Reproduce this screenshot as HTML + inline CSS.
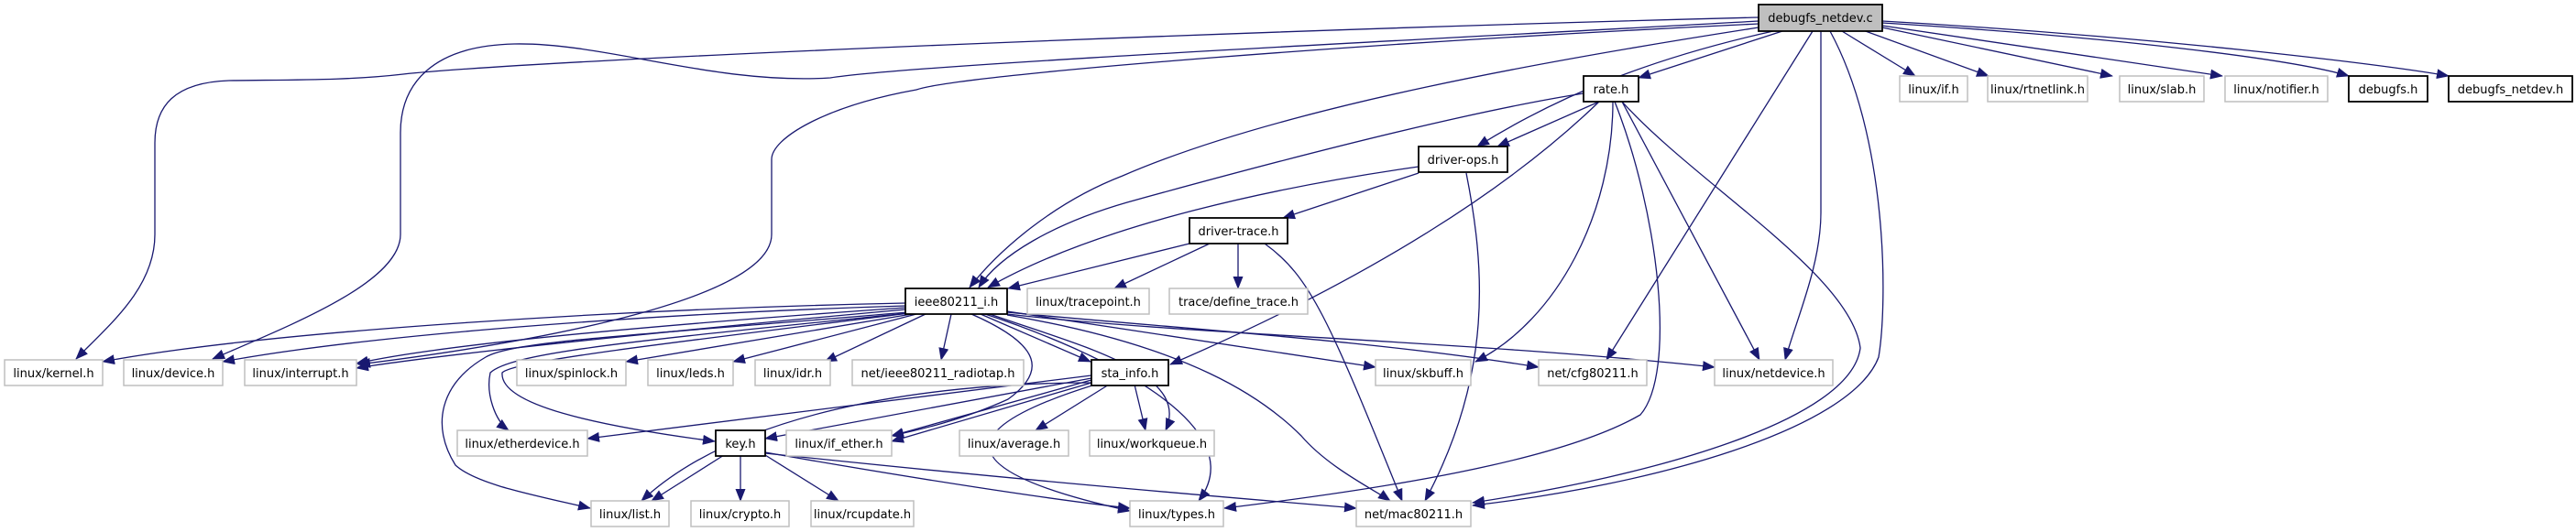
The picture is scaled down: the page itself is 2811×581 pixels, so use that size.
<!DOCTYPE html>
<html><head><meta charset="utf-8"><style>
html,body{margin:0;padding:0;background:#fff;}
svg{display:block;}
text{font-family:"DejaVu Sans","Liberation Sans",sans-serif;font-size:13px;fill:#000;}
.e{fill:none;stroke:#191970;stroke-width:1.3;marker-end:url(#a);}
.n{fill:#fff;stroke:#bfbfbf;stroke-width:1.5;}
.d{fill:#fff;stroke:#000;stroke-width:1.8;}
.r{fill:#bfbfbf;stroke:#000;stroke-width:1.8;}
</style></head><body>
<svg width="2811" height="581" viewBox="0 0 2811 581" xmlns="http://www.w3.org/2000/svg">
<defs><marker id="a" markerUnits="userSpaceOnUse" markerWidth="14" markerHeight="11" refX="13" refY="5.5" orient="auto"><path d="M0,0 L14,5.5 L0,11 z" fill="#191970"/></marker></defs>
<g>
<path class="e" d="M1919,19 C1400,32 600,64 440,81 C380,88 320,87 250,88 C190,90 169,116 169,156 L169,256 C169,314 120,354 83,392"/>
<path class="e" d="M1919,23 C1600,41 1000,70 906,85 C780,93 660,46 561,48 C470,50 437,93 437,145 L437,256 C437,308 320,354 232,392"/>
<path class="e" d="M1919,26 C1500,46 1050,81 1000,98 C900,116 842,151 842,174 L842,256 C842,325 600,372 391,398"/>
<path class="e" d="M1919,30 C1700,64 1400,116 1225,192 C1150,221 1090,273 1058,314"/>
<path class="e" d="M1728,102 C1600,122 1400,174 1230,221 C1150,244 1090,279 1068,314"/>
<path class="e" d="M1548,182 C1400,203 1200,244 1078,314"/>
<path class="e" d="M1298,266 L1100,315"/>
<path class="e" d="M1945,34 L1788,85"/>
<path class="e" d="M1935,34 C1800,64 1700,105 1612,160"/>
<path class="e" d="M1745,111 L1634,160"/>
<path class="e" d="M1978,34 L1753,393"/>
<path class="e" d="M1987,34 L1987,232 C1987,290 1960,349 1948,393"/>
<path class="e" d="M1997,34 C2060,150 2060,330 2050,390 C2020,470 1800,530 1607,552"/>
<path class="e" d="M1770,111 C1850,200 2020,300 2030,380 C2020,460 1800,520 1607,549"/>
<path class="e" d="M2010,34 L2090,83"/>
<path class="e" d="M2030,32 L2170,83"/>
<path class="e" d="M2054,30 L2305,83"/>
<path class="e" d="M2054,28 L2425,83"/>
<path class="e" d="M2054,25 C2300,40 2500,64 2563,83"/>
<path class="e" d="M2054,23 C2350,40 2600,70 2672,83"/>
<path class="e" d="M1745,111 C1650,203 1500,302 1277,398"/>
<path class="e" d="M1760,111 C1760,232 1700,349 1610,395"/>
<path class="e" d="M1762,111 C1810,232 1830,407 1790,453 C1700,505 1500,535 1336,555"/>
<path class="e" d="M1770,111 L1920,393"/>
<path class="e" d="M1548,189 L1400,238"/>
<path class="e" d="M1600,189 C1620,290 1630,407 1555,547"/>
<path class="e" d="M1320,266 L1216,315"/>
<path class="e" d="M1351,266 L1351,315"/>
<path class="e" d="M1380,266 C1430,302 1450,349 1530,547"/>
<path class="e" d="M988,331 C700,337 300,360 112,395"/>
<path class="e" d="M988,334 C700,343 400,366 243,395"/>
<path class="e" d="M988,336 C800,349 500,372 389,397"/>
<path class="e" d="M988,338 C800,355 500,384 389,402"/>
<path class="e" d="M995,343 L683,395"/>
<path class="e" d="M1000,343 L800,395"/>
<path class="e" d="M1010,343 L900,395"/>
<path class="e" d="M1038,343 L1027,393"/>
<path class="e" d="M1070,343 L1190,395"/>
<path class="e" d="M990,341 C700,366 560,372 530,390 C480,419 470,465 497,508 C520,529 580,540 644,555"/>
<path class="e" d="M990,342 C700,372 560,384 535,407 C530,430 540,459 555,470"/>
<path class="e" d="M992,342 C700,378 560,395 548,407 C545,442 650,465 780,482"/>
<path class="e" d="M1099,340 L1501,401"/>
<path class="e" d="M1099,341 C1300,360 1500,372 1679,401"/>
<path class="e" d="M1099,343 C1300,366 1600,372 1871,401"/>
<path class="e" d="M1080,343 C1180,378 1300,407 1272,470"/>
<path class="e" d="M1075,343 C1200,384 1370,465 1308,547"/>
<path class="e" d="M1099,344 C1300,378 1380,436 1420,476 C1450,511 1500,535 1517,547"/>
<path class="e" d="M1060,343 C1140,378 1140,407 1100,436 C1050,459 1000,470 973,476"/>
<path class="e" d="M1191,410 L641,479"/>
<path class="e" d="M1191,413 L835,479"/>
<path class="e" d="M1191,415 L973,476"/>
<path class="e" d="M1191,418 L973,482"/>
<path class="e" d="M1191,418 C1000,418 800,453 700,547"/>
<path class="e" d="M1210,420 L1130,470"/>
<path class="e" d="M1238,420 L1250,470"/>
<path class="e" d="M1195,420 C1050,465 1020,511 1233,558"/>
<path class="e" d="M790,497 L711,547"/>
<path class="e" d="M808,497 L808,547"/>
<path class="e" d="M835,497 L915,547"/>
<path class="e" d="M835,494 C1000,523 1150,546 1233,555"/>
<path class="e" d="M835,495 C1100,523 1300,540 1480,555"/>
</g>
<g text-anchor="middle">
<rect class="r" x="1919" y="5" width="135" height="29"/><text x="1986.5" y="24">debugfs_netdev.c</text>
<rect class="d" x="1728" y="83" width="60" height="28"/><text x="1758" y="102">rate.h</text>
<rect class="n" x="2073" y="83" width="74" height="28"/><text x="2110" y="102">linux/if.h</text>
<rect class="n" x="2169" y="83" width="109" height="28"/><text x="2223.5" y="102">linux/rtnetlink.h</text>
<rect class="n" x="2313" y="83" width="92" height="28"/><text x="2359" y="102">linux/slab.h</text>
<rect class="n" x="2428" y="83" width="112" height="28"/><text x="2484" y="102">linux/notifier.h</text>
<rect class="d" x="2563" y="83" width="86" height="28"/><text x="2606" y="102">debugfs.h</text>
<rect class="d" x="2672" y="83" width="135" height="28"/><text x="2739.5" y="102">debugfs_netdev.h</text>
<rect class="d" x="1548" y="160" width="97" height="28"/><text x="1596.5" y="179">driver-ops.h</text>
<rect class="d" x="1298" y="238" width="107" height="28"/><text x="1351.5" y="257">driver-trace.h</text>
<rect class="d" x="988" y="315" width="111" height="28"/><text x="1043.5" y="334">ieee80211_i.h</text>
<rect class="n" x="1121" y="315" width="133" height="28"/><text x="1187.5" y="334">linux/tracepoint.h</text>
<rect class="n" x="1276" y="315" width="151" height="28"/><text x="1351.5" y="334">trace/define_trace.h</text>
<rect class="n" x="5" y="393" width="107" height="28"/><text x="58.5" y="412">linux/kernel.h</text>
<rect class="n" x="135" y="393" width="108" height="28"/><text x="189" y="412">linux/device.h</text>
<rect class="n" x="267" y="393" width="122" height="28"/><text x="328" y="412">linux/interrupt.h</text>
<rect class="n" x="564" y="393" width="119" height="28"/><text x="623.5" y="412">linux/spinlock.h</text>
<rect class="n" x="707" y="393" width="93" height="28"/><text x="753.5" y="412">linux/leds.h</text>
<rect class="n" x="824" y="393" width="82" height="28"/><text x="865" y="412">linux/idr.h</text>
<rect class="n" x="930" y="393" width="187" height="28"/><text x="1023.5" y="412">net/ieee80211_radiotap.h</text>
<rect class="d" x="1191" y="393" width="84" height="28"/><text x="1233" y="412">sta_info.h</text>
<rect class="n" x="1501" y="393" width="104" height="28"/><text x="1553" y="412">linux/skbuff.h</text>
<rect class="n" x="1679" y="393" width="118" height="28"/><text x="1738" y="412">net/cfg80211.h</text>
<rect class="n" x="1871" y="393" width="129" height="28"/><text x="1935.5" y="412">linux/netdevice.h</text>
<rect class="n" x="499" y="470" width="142" height="28"/><text x="570" y="489">linux/etherdevice.h</text>
<rect class="d" x="781" y="470" width="54" height="28"/><text x="808" y="489">key.h</text>
<rect class="n" x="858" y="470" width="115" height="28"/><text x="915.5" y="489">linux/if_ether.h</text>
<rect class="n" x="1047" y="470" width="119" height="28"/><text x="1106.5" y="489">linux/average.h</text>
<rect class="n" x="1189" y="470" width="136" height="28"/><text x="1257" y="489">linux/workqueue.h</text>
<rect class="n" x="645" y="547" width="85" height="28"/><text x="687.5" y="566">linux/list.h</text>
<rect class="n" x="754" y="547" width="107" height="28"/><text x="807.5" y="566">linux/crypto.h</text>
<rect class="n" x="885" y="547" width="112" height="28"/><text x="941" y="566">linux/rcupdate.h</text>
<rect class="n" x="1233" y="547" width="102" height="28"/><text x="1284" y="566">linux/types.h</text>
<rect class="n" x="1480" y="547" width="125" height="28"/><text x="1542.5" y="566">net/mac80211.h</text>
</g>
</svg>
</body></html>
